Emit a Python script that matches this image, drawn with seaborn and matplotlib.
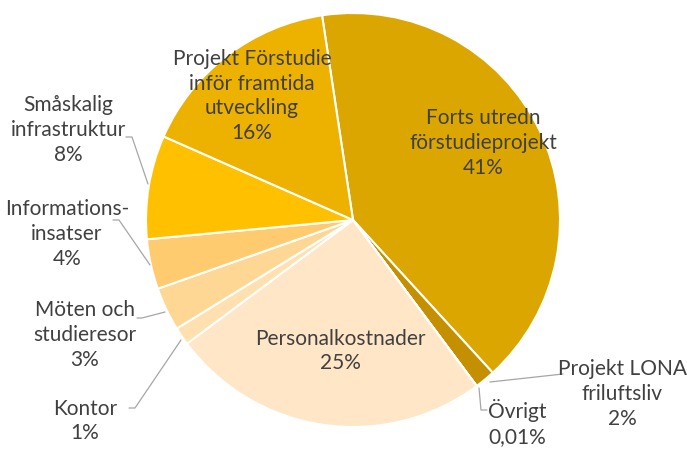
import seaborn as sns
import matplotlib.pyplot as plt

# Data (share of budget, clockwise from the top)
categories = ['Forts utredn\nförstudieprojekt', 'Projekt LONA\nfriluftsliv', 'Övrigt',
              'Personalkostnader', 'Kontor', 'Möten och\nstudieresor',
              'Informations-\ninsatser', 'Småskalig\ninfrastruktur',
              'Projekt Förstudie\ninför framtida\nutveckling']
values = [40.6, 1.6, 0.01, 25.0, 1.4, 3.4, 3.9, 8.1, 16.0]
colors = ['#DCA600', '#C49000', '#F5E3C0', '#FFE6C6', '#FFE0AE', '#FFD795',
          '#FFCB6E', '#FFC000', '#EDB100']

sns.set_theme(style='white')
plt.rcParams['font.family'] = ['Lato', 'DejaVu Sans']

fig = plt.figure(figsize=(6.87, 4.51), dpi=100)
ax = fig.add_axes([0, 0, 1, 1])

H = 451
cx, cy, r = 353, H - 220, 207
wedges, _ = ax.pie(values, colors=colors, startangle=98.6, counterclock=False,
                   center=(cx, cy), radius=r, frame=True,
                   wedgeprops=dict(edgecolor='white', linewidth=1.5))
ax.set_xlim(0, 687)
ax.set_ylim(0, 451)
ax.set_aspect('equal')
ax.axis('off')

total = sum(values)


def pct(v):
    p = v / total * 100
    if round(p) == 0:
        return f'{p:.2f}'.replace('.', ',') + '%'
    return f'{p:.0f}%'


# label positions in pixels (x, y from top) and leader lines
label_pos = [(483, 143), (622, 394), (517, 423), (340, 351), (85, 421),
             (85, 335), (67, 234), (68, 130), (252, 96)]
leaders = [None,
           [(563, 374), (490, 382)],
           [(487, 410), (481, 410), (479, 388)],
           None,
           [(129, 408), (135, 408), (181, 340)],
           [(137, 318), (142, 318), (165, 312)],
           [(113, 220), (119, 220), (150, 265)],
           [(126, 137), (132, 137), (148, 184)],
           None]

txt = '#404040'
for cat, v, (x, y), ln in zip(categories, values, label_pos, leaders):
    ax.text(x, H - y, f'{cat}\n{pct(v)}', ha='center', va='center',
            fontsize=15, color=txt, linespacing=1.3)
    if ln:
        ax.plot([p[0] for p in ln], [H - p[1] for p in ln],
                color='#A6A6A6', lw=0.9)

fig.savefig('out.png', dpi=100)
